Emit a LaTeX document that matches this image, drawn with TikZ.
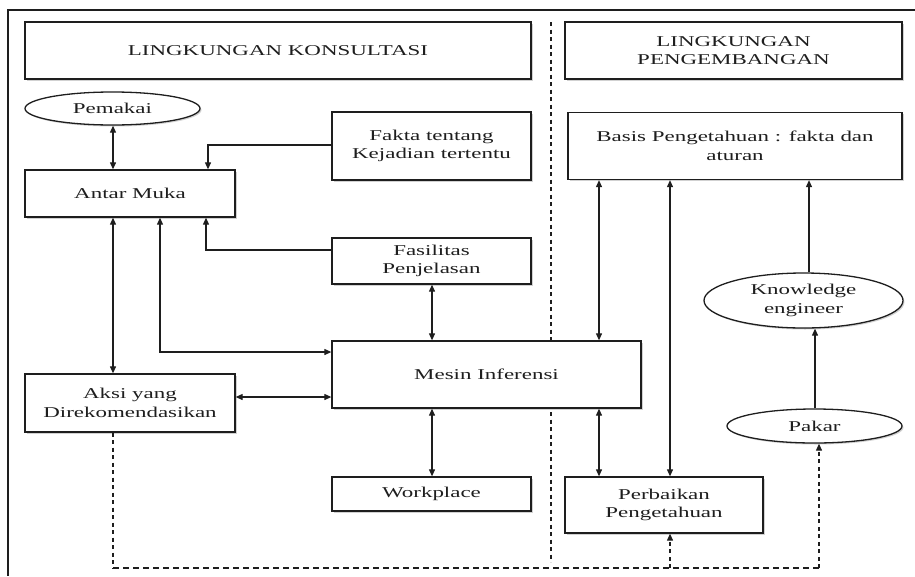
\documentclass[tikz,border=0pt]{standalone}
\usepackage{fontspec}
\setmainfont[FakeStretch=1.53]{Liberation Serif}
\usetikzlibrary{arrows.meta,shapes.geometric,shadows}

\definecolor{ink}{HTML}{1E1E1E}

\tikzset{
  box/.style={draw=ink, line width=1.3pt, fill=white, align=center,
    inner sep=0pt, text=ink,
    drop shadow={shadow xshift=1.5pt, shadow yshift=-1.5pt, opacity=0.18, fill=black}},
  oval/.style={ellipse, draw=ink, line width=1.3pt, fill=white, align=center,
    inner sep=0pt, text=ink,
    drop shadow={shadow xshift=1.5pt, shadow yshift=-1.5pt, opacity=0.18, fill=black}},
  link/.style={draw=ink, line width=1.1pt,
    arrows={-Triangle[length=7pt,width=6pt]}},
  both/.style={link, arrows={Triangle[length=7pt,width=6pt]-Triangle[length=7pt,width=6pt]}},
  vdash/.style={draw=ink, line width=1.1pt, dash pattern=on 4pt off 3.5pt},
  hdash/.style={draw=ink, line width=1.1pt, dash pattern=on 6pt off 4pt},
  vdashlink/.style={link, dash pattern=on 4pt off 3.5pt},
}

\begin{document}
\begin{tikzpicture}[x=1pt, y=-1pt, font=\fontsize{15}{18.5}\selectfont]
\useasboundingbox (0,0) rectangle (915,576);

% open outer frame
\draw[ink, line width=1.8pt] (915,10) -- (8,10) -- (8,576);

% section headers
\node[box, minimum width=506pt, minimum height=57pt] (konsul) at (278,50.5) {LINGKUNGAN KONSULTASI};
\node[box, minimum width=337pt, minimum height=57pt] (pengemb) at (733.5,50.5) {LINGKUNGAN\\PENGEMBANGAN};

% divider between the two environments
\coordinate (divtop) at (551,22);
\coordinate (divbot) at (551,562);
\draw[vdash] (divtop) -- (divbot);

% consultation side
\node[oval, minimum width=175pt, minimum height=33pt] (pemakai) at (112.5,108.5) {Pemakai};
\node[box, minimum width=199pt, minimum height=68pt] (fakta) at (431.5,146) {Fakta tentang\\Kejadian tertentu};
\node[box, minimum width=210pt, minimum height=47pt] (antar) at (130,193.5) {Antar Muka};
\node[box, minimum width=199pt, minimum height=46pt] (fasil) at (431.5,261) {Fasilitas\\Penjelasan};
\node[box, minimum width=309pt, minimum height=67pt] (mesin) at (486.5,374.5) {Mesin Inferensi};
\node[box, minimum width=210pt, minimum height=58pt] (aksi) at (130,403) {Aksi yang\\Direkomendasikan};
\node[box, minimum width=199pt, minimum height=34pt] (work) at (431.5,494) {Workplace};

% development side
\node[box, minimum width=334pt, minimum height=67pt] (basis) at (735,146) {Basis Pengetahuan : fakta dan\\aturan};
\node[oval, minimum width=199pt, minimum height=55pt] (ke) at (803.5,300.5) {Knowledge\\engineer};
\node[oval, minimum width=175pt, minimum height=34pt] (pakar) at (814.5,426) {Pakar};
\node[box, minimum width=198pt, minimum height=56pt] (perb) at (664,505) {Perbaikan\\Pengetahuan};

% connectors: consultation side
\draw[both] (pemakai.south -| 113,0) -- (antar.north -| 113,0);
\draw[link] (fakta.west |- 0,145) -- (208,145) -- (antar.north -| 208,0);
\draw[both] (antar.south -| 113,0) -- (aksi.north -| 113,0);
\draw[both] (mesin.west |- 0,352) -- (160,352) -- (antar.south -| 160,0);
\draw[link] (fasil.west |- 0,250) -- (206,250) -- (antar.south -| 206,0);
\draw[both] (fasil.south -| 432,0) -- (mesin.north -| 432,0);
\draw[both] (aksi.east |- 0,397) -- (mesin.west |- 0,397);
\draw[both] (mesin.south -| 432,0) -- (work.north -| 432,0);

% connectors: development side
\draw[both] (basis.south -| 599,0) -- (mesin.north -| 599,0);
\draw[both] (basis.south -| 670,0) -- (perb.north -| 670,0);
\draw[both] (mesin.south -| 599,0) -- (perb.north -| 599,0);
\draw[link] (ke.north -| 809,0) -- (basis.south -| 809,0);
\draw[link] (pakar.north -| 815,0) -- (ke.south -| 815,0);

% feedback path from recommended actions
\coordinate (fbl) at (113,568);
\coordinate (fbm) at (670,568);
\coordinate (fbr) at (819,568);
\draw[vdash] (aksi.south -| 113,0) -- (fbl);
\draw[hdash] (fbl) -- (fbr);
\draw[vdashlink] (fbr) -- (pakar.south -| 819,0);
\draw[vdashlink] (fbm) -- (perb.south -| 670,0);
\end{tikzpicture}
\end{document}
